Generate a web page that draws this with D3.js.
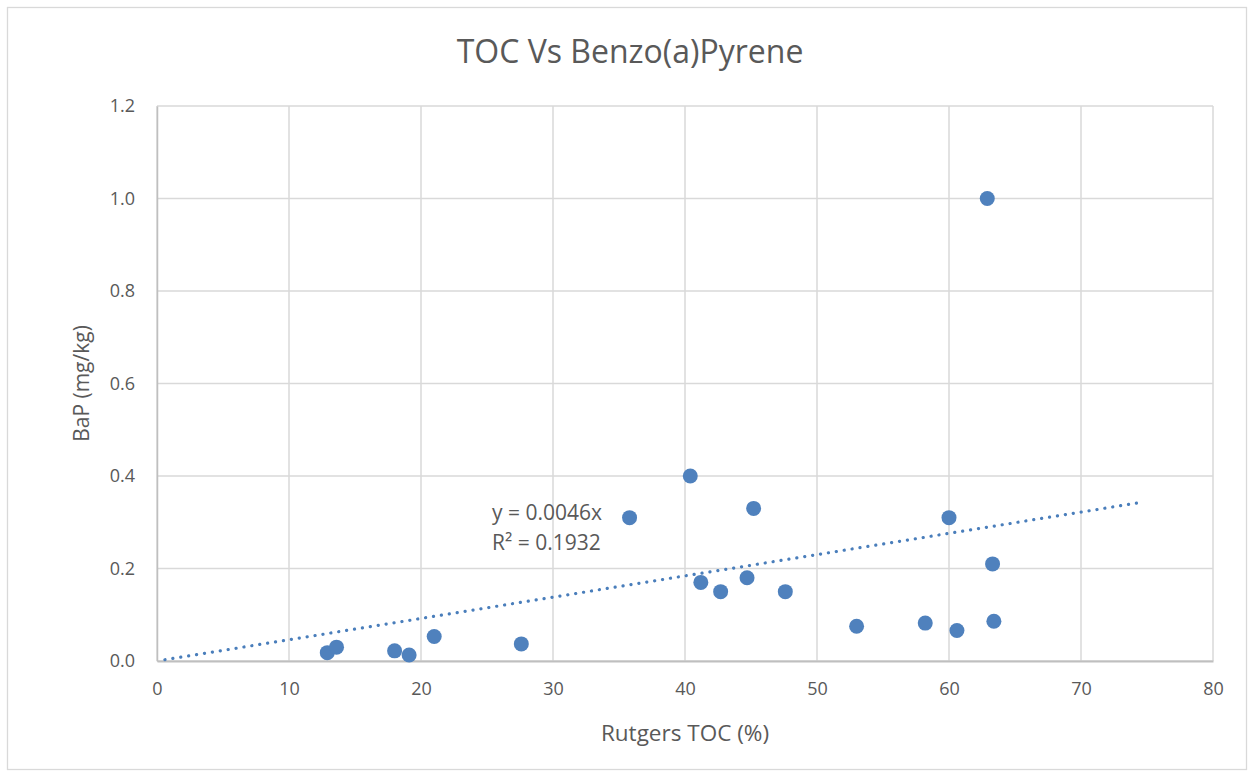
<!DOCTYPE html>
<html>
<head>
<meta charset="utf-8">
<script src="https://cdn.jsdelivr.net/npm/d3@7"></script>
<style>
  body { margin: 0; background: #fff; }
  text { font-family: "Open Sans", "Noto Sans", sans-serif; fill: #595959; }
</style>
</head>
<body>
<div id="chart"></div>
<script>
// data
var tocValues = [12.9, 13.6, 18.0, 19.1, 21.0, 27.6, 35.8, 40.4, 41.2, 42.7,
                 44.7, 45.2, 47.6, 53.0, 58.2, 60.0, 60.6, 62.9, 63.3, 63.4];
var bapValues = [0.018, 0.030, 0.022, 0.013, 0.053, 0.037, 0.31, 0.40, 0.17, 0.15,
                 0.18, 0.33, 0.15, 0.075, 0.082, 0.31, 0.066, 1.0, 0.21, 0.086];
var xTicks = [0, 10, 20, 30, 40, 50, 60, 70, 80];
var yTicks = [0, 0.2, 0.4, 0.6, 0.8, 1.0, 1.2];
var trendSlope = 0.0046;
var trendRange = [0.6, 74.3];
var equationLines = ["y = 0.0046x", "R² = 0.1932"];

var svgWidth = 1253;
var svgHeight = 776;

var margin = { top: 106, right: 40, bottom: 115, left: 157 };
var width = 1213 - margin.left;
var height = 661 - margin.top;

var svg = d3.select("#chart")
  .append("svg")
  .attr("width", svgWidth)
  .attr("height", svgHeight);

// chart frame
svg.append("rect")
  .attr("x", 7.5).attr("y", 7.5)
  .attr("width", 1239).attr("height", 762)
  .attr("fill", "#fff")
  .attr("stroke", "#d9d9d9")
  .attr("stroke-width", 1.3);

var chartGroup = svg.append("g")
  .attr("transform", `translate(${margin.left}, ${margin.top})`);

var xScale = d3.scaleLinear().domain([0, 80]).range([0, width]);
var yScale = d3.scaleLinear().domain([0, 1.2]).range([height, 0]);

// gridlines
chartGroup.append("g")
  .selectAll("line")
  .data(xTicks)
  .enter()
  .append("line")
  .attr("x1", d => xScale(d)).attr("x2", d => xScale(d))
  .attr("y1", 0).attr("y2", height)
  .attr("stroke", "#d9d9d9")
  .attr("stroke-width", 1.5);

chartGroup.append("g")
  .selectAll("line")
  .data(yTicks)
  .enter()
  .append("line")
  .attr("x1", 0).attr("x2", width)
  .attr("y1", d => yScale(d)).attr("y2", d => yScale(d))
  .attr("stroke", "#d9d9d9")
  .attr("stroke-width", 1.5);

// axes
var bottomAxis = d3.axisBottom(xScale).tickValues(xTicks).tickSize(0).tickPadding(21);
var leftAxis = d3.axisLeft(yScale).tickValues(yTicks).tickSize(0).tickPadding(22)
  .tickFormat(d3.format(".1f"));

var xAxisG = chartGroup.append("g")
  .attr("transform", `translate(0, ${height})`)
  .call(bottomAxis);
var yAxisG = chartGroup.append("g").call(leftAxis);

xAxisG.select(".domain").attr("stroke", "#bfbfbf").attr("stroke-width", 2);
yAxisG.select(".domain").attr("stroke", "#bfbfbf").attr("stroke-width", 1.5);
chartGroup.selectAll(".tick text")
  .attr("font-size", 18)
  .attr("fill", "#595959")
  .style("font-family", "'Open Sans', sans-serif");

// trendline
chartGroup.append("line")
  .attr("x1", xScale(trendRange[0]))
  .attr("y1", yScale(trendRange[0] * trendSlope))
  .attr("x2", xScale(trendRange[1]))
  .attr("y2", yScale(trendRange[1] * trendSlope))
  .attr("stroke", "#4a7ebb")
  .attr("stroke-width", 3.2)
  .attr("stroke-linecap", "round")
  .attr("stroke-dasharray", "0.1,7.9");

// points
var points = tocValues.map((t, i) => ({ toc: t, bap: bapValues[i] }));
chartGroup.selectAll("circle")
  .data(points)
  .enter()
  .append("circle")
  .attr("cx", d => xScale(d.toc))
  .attr("cy", d => yScale(d.bap))
  .attr("r", 7.5)
  .attr("fill", "#4f81bd");

// equation label
chartGroup.append("g")
  .selectAll("text")
  .data(equationLines)
  .enter()
  .append("text")
  .attr("x", 492 - margin.left)
  .attr("y", (d, i) => 520 - margin.top + i * 30)
  .attr("font-size", 21)
  .text(d => d);

// titles
svg.append("text")
  .attr("x", 630)
  .attr("y", 63)
  .attr("text-anchor", "middle")
  .attr("font-size", 32)
  .text("TOC Vs Benzo(a)Pyrene");

svg.append("text")
  .attr("x", 685)
  .attr("y", 741)
  .attr("text-anchor", "middle")
  .attr("font-size", 22.5)
  .text("Rutgers TOC (%)");

svg.append("text")
  .attr("transform", `translate(89, ${margin.top + height / 2}) rotate(-90)`)
  .attr("text-anchor", "middle")
  .attr("font-size", 21)
  .text("BaP (mg/kg)");
</script>
</body>
</html>
